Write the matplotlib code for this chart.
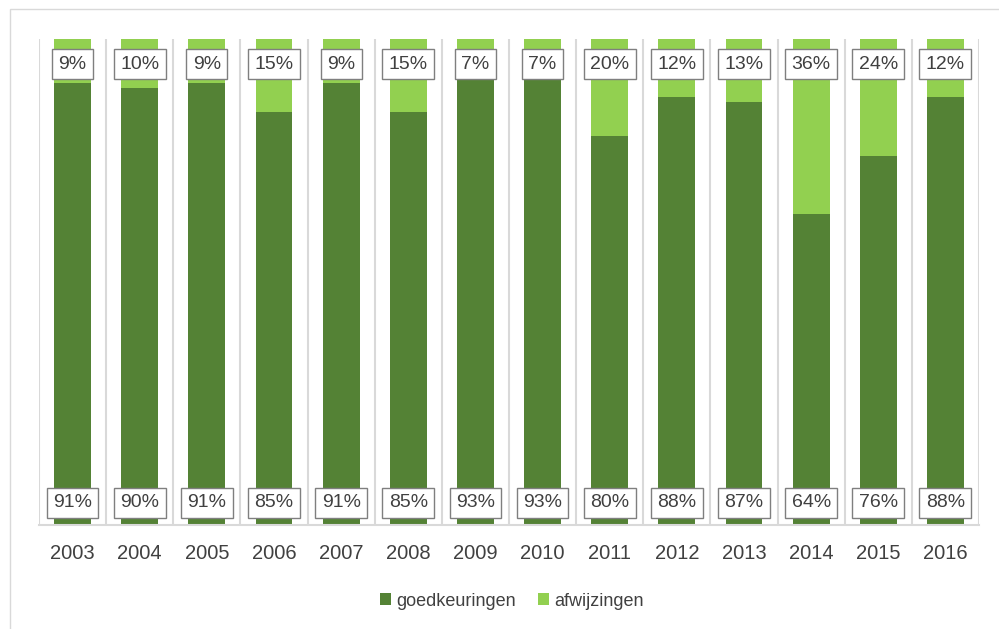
import numpy as np
import matplotlib.pyplot as plt
from matplotlib.patches import Rectangle

# Data
years = ['2003', '2004', '2005', '2006', '2007', '2008', '2009',
         '2010', '2011', '2012', '2013', '2014', '2015', '2016']
goedkeuringen = [91, 90, 91, 85, 91, 85, 93, 93, 80, 88, 87, 64, 76, 88]
afwijzingen = [9, 10, 9, 15, 9, 15, 7, 7, 20, 12, 13, 36, 24, 12]

dark = '#548235'
light = '#92d050'
txt = '#404040'
grid = '#d9d9d9'

plt.rcParams['font.family'] = ['Liberation Sans', 'DejaVu Sans']

fig = plt.figure(figsize=(9.99, 6.29), dpi=100)
ax = fig.add_axes([39 / 999, 1 - 525 / 629, 940 / 999, 486 / 629])

# Outer border of the chart area
fig.patches.append(Rectangle((10 / 999, -0.1), 1.2, 1 - 9 / 629 + 0.1,
                             transform=fig.transFigure, fill=False,
                             edgecolor=grid, linewidth=1))

x = np.arange(len(years))
w = 0.55
ax.bar(x, goedkeuringen, w, color=dark, label='goedkeuringen')
ax.bar(x, afwijzingen, w, bottom=goedkeuringen, color=light, label='afwijzingen')

box = dict(boxstyle='square,pad=0.33', facecolor='white', edgecolor='#7f7f7f', linewidth=1)
for i in range(len(years)):
    ax.text(x[i], 94.8, f'{afwijzingen[i]}%', ha='center', va='center',
            fontsize=14, color=txt, bbox=box)
    ax.text(x[i], 4.6, f'{goedkeuringen[i]}%', ha='center', va='center',
            fontsize=14, color=txt, bbox=box)

ax.set_xlim(-0.5, len(years) - 0.5)
ax.set_ylim(0, 100)
ax.set_xticks(x)
ax.set_xticklabels(years, fontsize=14.5, color=txt)
ax.set_xticks(np.arange(-0.5, len(years), 1), minor=True)
ax.tick_params(axis='x', which='both', length=0, pad=14)
ax.set_yticks([])
ax.grid(True, which='minor', axis='x', color=grid, linewidth=1.5)
ax.set_axisbelow(True)
for s in ['top', 'left', 'right']:
    ax.spines[s].set_visible(False)
ax.spines['bottom'].set_color(grid)
ax.spines['bottom'].set_linewidth(1.5)

fig.legend(loc='center', bbox_to_anchor=(512 / 999, 1 - 601 / 629), ncol=2,
           frameon=False, fontsize=13, labelcolor=txt, handlelength=0.6,
           handleheight=0.6, handletextpad=0.3, columnspacing=1.2)

plt.savefig('out.png', dpi=100)
